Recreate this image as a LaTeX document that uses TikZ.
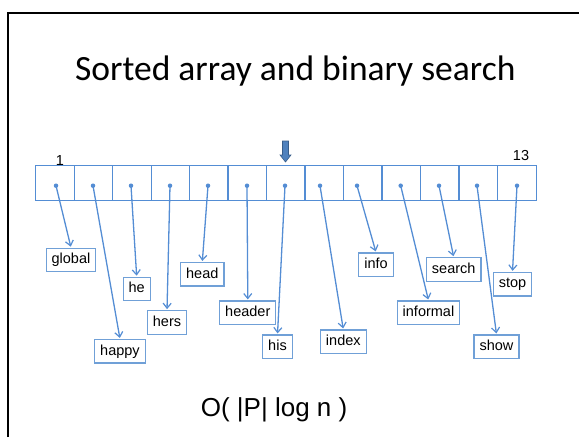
\documentclass[tikz,border=0pt]{standalone}
\usepackage{fontspec}
\setmainfont{Liberation Sans}
\newfontfamily\titlefont{Carlito}
\usetikzlibrary{arrows.meta}
\definecolor{arrline}{RGB}{84,141,212}
\definecolor{boxline}{RGB}{112,160,215}
\definecolor{markfill}{RGB}{79,129,189}
\definecolor{markdraw}{RGB}{56,93,138}

\begin{document}
\begin{tikzpicture}[x=1pt, y=-1pt,
  every node/.style={font=\fontsize{14.5}{16}\selectfont},
  cell/.style={minimum width=38.46pt, minimum height=34pt, inner sep=0pt},
  dot/.style={circle, fill=arrline, inner sep=0pt, minimum size=4.5pt},
  word/.style={draw=boxline, line width=1.2pt, inner xsep=5.5pt, inner ysep=0pt, minimum height=23.5pt, text height=10.5pt, text depth=3pt},
  ptr/.style={-{Straight Barb[length=5pt, width=8pt, line width=1.2pt]}, arrline, line width=1.3pt, shorten >=1pt}]
  \useasboundingbox (0,0) rectangle (579,437);
  % slide frame
  \draw[line width=2.5pt] (8,437) -- (8,13) -- (579,13);
  % title
  \node[anchor=base west, inner sep=0pt, font=\titlefont\fontsize{35.5}{40}\selectfont] (title) at (75,80) {Sorted array and binary search};
  % the array of 13 cells
  \foreach \i in {1,...,13}{\node[cell] (c\i) at ({36+38.46*(\i-0.5)},183) {};}
  \draw[arrline, line width=1.3pt] (c1.north west) rectangle (c13.south east);
  \foreach \i in {2,...,13}{\draw[arrline, line width=1.3pt] (c\i.north west) -- (c\i.south west);}
  \node[anchor=base, inner sep=0pt] (first) at (60,165) {1};
  \node[anchor=base, inner sep=0pt] (last) at (521,160) {13};
  % middle probe marker
  \coordinate (probe) at (285.5,162);
  \draw[fill=markfill, draw=markdraw, line width=0.6pt, line join=miter]
    (probe) -- ++(-5.5,-7) -- ++(2.5,0) -- ++(0,-14) -- ++(6,0) -- ++(0,14) -- ++(2.5,0) -- cycle;
  % pointers in the cells
  \foreach \x [count=\i] in {56,93,131,170,208,247,285,320,357,400.7,439,477,517}{\node[dot] (d\i) at (\x,185.7) {};}
  % the words
  \node[word] (global) at (71,260) {global};
  \node[word] (happy) at (120,351.3) {happy};
  \node[word] (he) at (136.7,289) {he};
  \node[word] (hers) at (167,322.5) {hers};
  \node[word] (head) at (202.3,274.3) {head};
  \node[word] (header) at (247.8,312.8) {header};
  \node[word] (his) at (277.5,346.8) {his};
  \node[word] (index) at (343.3,341.8) {index};
  \node[word] (info) at (376,264.7) {info};
  \node[word] (informal) at (428.5,312.8) {informal};
  \node[word] (search) at (453.7,269.5) {search};
  \node[word] (show) at (496.5,346.8) {show};
  \node[word] (stop) at (512.5,284.2) {stop};
  \foreach \i/\w in {1/global,2/happy,3/he,4/hers,5/head,6/header,7/his,8/index,9/info,10/informal,11/search,12/show,13/stop}{
    \draw[ptr] (d\i.center) -- (\w.north);}
  % cost
  \node[anchor=base west, inner sep=0pt, font=\fontsize{26}{30}\selectfont] (cost) at (200.7,416.7) {O( |P| log n )};
\end{tikzpicture}
\end{document}
